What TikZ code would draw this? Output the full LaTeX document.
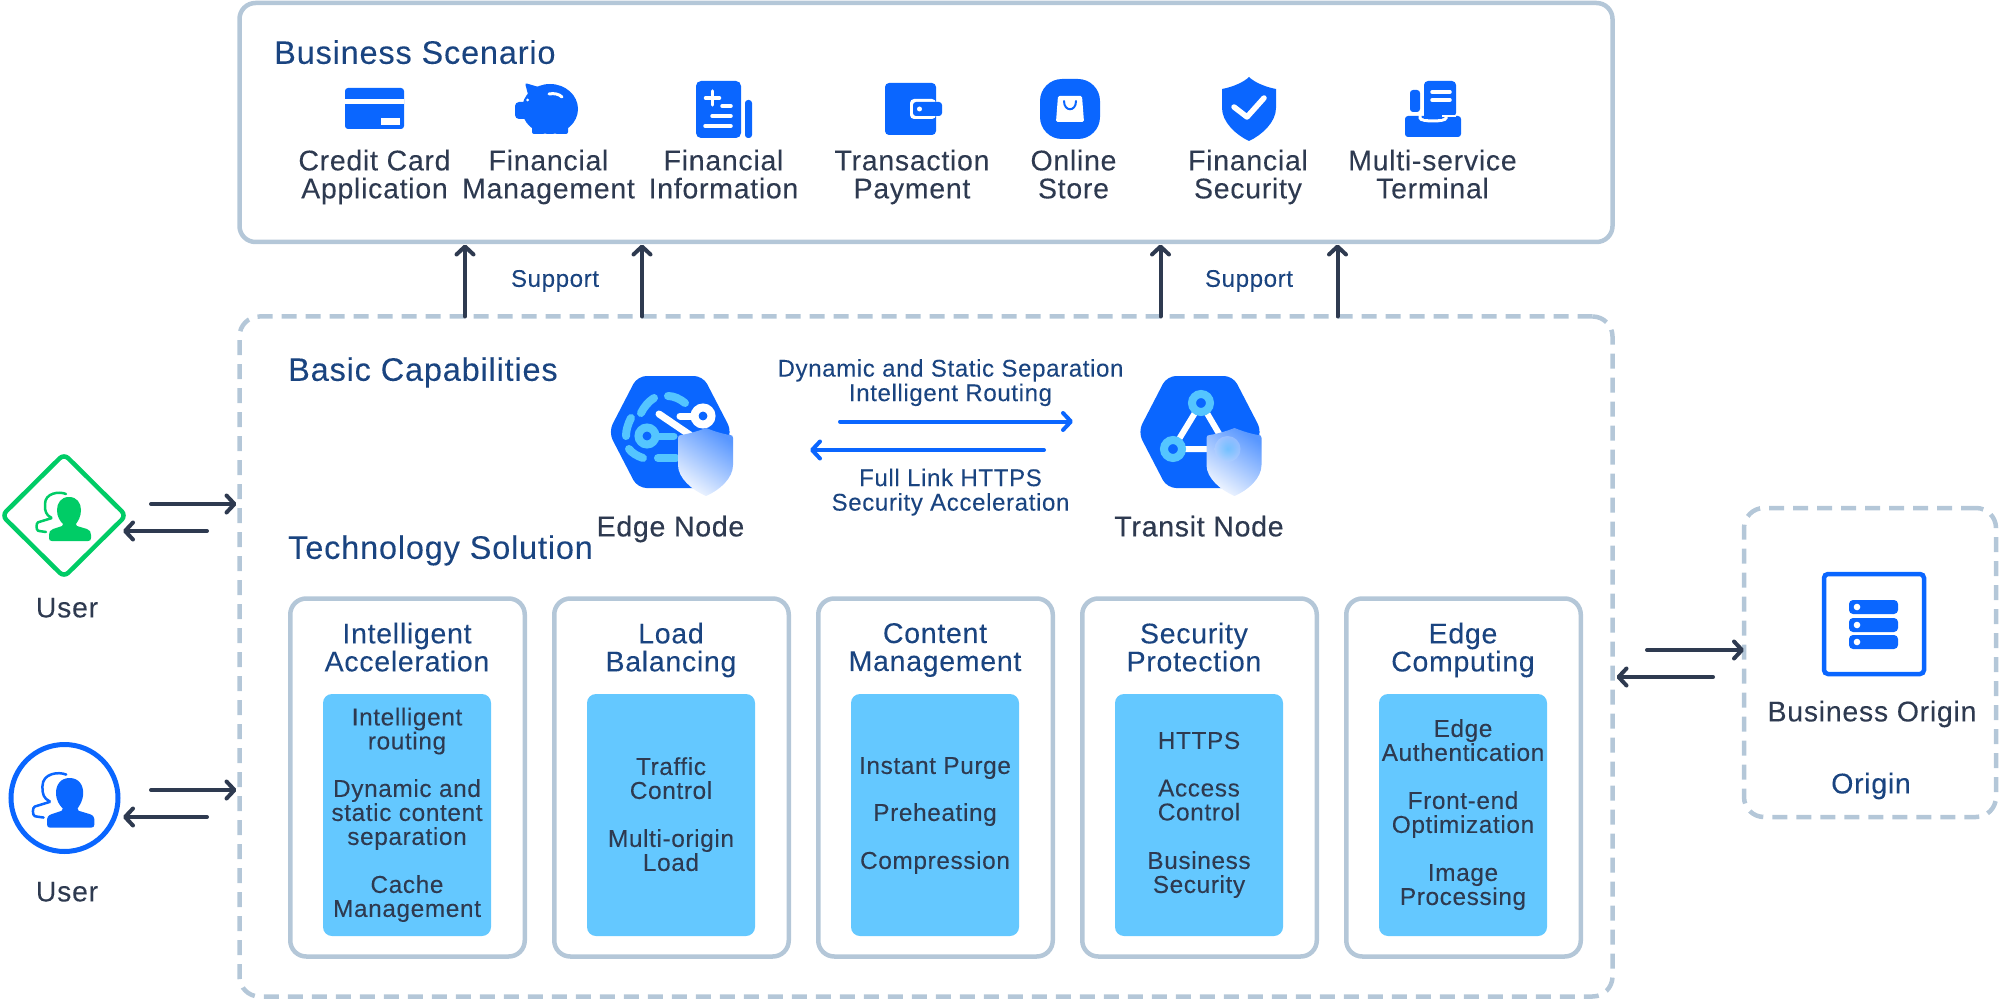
\documentclass[tikz,border=0pt]{standalone}
\usepackage{fontspec}
\setmainfont{Liberation Sans}[LetterSpace=2.5,FakeBold=0.08]
\newfontfamily\medfont{Liberation Sans}[FakeBold=0.4,LetterSpace=2.5]
\usetikzlibrary{arrows.meta,shapes.geometric}
\definecolor{edgeC}{HTML}{B4C7D8}
\definecolor{inkC}{HTML}{2E3A50}
\definecolor{navyC}{HTML}{1A4480}
\definecolor{blueC}{HTML}{0A66FF}
\definecolor{skyC}{HTML}{64C8FF}
\definecolor{cyanC}{HTML}{54C5FF}
\definecolor{greenC}{HTML}{00CC66}
\newcommand\glassshield{%
  \shade[left color=blueC!68!white, right color=blueC!6!white, shading angle=-35]
    (28,0) .. controls (33,2) and (44,6) .. (52,7) .. controls (54,7) and (55,8) .. (55,10) -- (55,37)
    .. controls (55,50) and (42,62) .. (28,68) .. controls (14,62) and (0,50) .. (0,37) -- (0,10)
    .. controls (0,8) and (1,7) .. (3,7) .. controls (11,6) and (23,2) .. (28,0) -- cycle;
}
\newcommand\personfill{%
  (20,0) .. controls (28,0) and (32,6) .. (32,13) .. controls (32,20) and (29,24) .. (27,27) -- (28,29) -- (38,32)
  .. controls (41,33) and (42,35) .. (42,38) -- (42,41) .. controls (42,43) and (41,44) .. (39,44) -- (3,44)
  .. controls (1,44) and (0,43) .. (0,41) -- (0,38) .. controls (0,35) and (1,33) .. (4,32) -- (13,29) -- (14,27)
  .. controls (11,24) and (8,20) .. (8,13) .. controls (8,6) and (12,0) .. (20,0) -- cycle}
\newcommand\personline{%
  (17,-3) .. controls (10,-6) and (-4,-4) .. (-4,8) .. controls (-4,14) and (-3,18) .. (3,21) -- (-10,25)
  .. controls (-13,26) and (-13,33) .. (-10,34) -- (-3,35)}
\tikzset{
  x=1pt,y=-1pt,
  panel/.style={draw=edgeC,line width=4.5pt,rounded corners=16pt,inner sep=0pt,outer sep=0pt},
  dashpanel/.style={panel,rounded corners=20pt,dash pattern=on 15pt off 9pt},
  card/.style={draw=edgeC,line width=4.5pt,rounded corners=16pt,inner sep=0pt,outer sep=0pt,minimum width=234.5pt,minimum height=358pt},
  inner box/.style={fill=skyC,rounded corners=9pt,inner sep=0pt,minimum width=168pt,minimum height=242pt},
  evened/.style={execute at begin node={\leavevmode\vphantom{lg}},execute at end node={\vphantom{lg}}},
  bigtitle/.style={evened,text=navyC,inner sep=0pt,anchor=west,yshift=-2.4pt,font=\fontsize{32.5}{32}\selectfont},
  itemlabel/.style={evened,text=inkC,inner sep=0pt,align=center,yshift=-2pt,font=\fontsize{28.5}{28}\selectfont},
  cardhead/.style={evened,text=navyC,inner sep=0pt,align=center,yshift=-2pt,font=\fontsize{28.5}{28}\selectfont},
  boxtext/.style={evened,text=inkC,inner sep=0pt,align=center,yshift=-1.6pt,font=\fontsize{24.4}{24}\selectfont},
  linktext/.style={evened,text=navyC,inner sep=0pt,align=center,yshift=-1.6pt,font=\fontsize{24.1}{24.5}\selectfont},
  nodelabel/.style={evened,text=inkC,inner sep=0pt,yshift=-3pt,font=\medfont\fontsize{28.5}{28}\selectfont},
  darrow/.style={draw=inkC,line width=4pt,line cap=round,-{Straight Barb[length=8pt,width=17pt,round]}},
  barrow/.style={draw=blueC,line width=4pt,line cap=round,-{Straight Barb[length=8pt,width=17pt,round]}},
  iconfill/.style={fill=blueC},
  whiteline/.style={draw=white,line width=3.5pt,line cap=round},
  cyanline/.style={draw=cyanC,line width=8pt,line cap=round},
}
\begin{document}
\begin{tikzpicture}
\useasboundingbox (0,0) rectangle (2000,1000);
% panels
\node[panel,minimum width=1373pt,minimum height=239pt] (scenario) at (926,122.5) {};
\node[dashpanel,minimum width=1373pt,minimum height=680pt] (basic) at (926,656.5) {};
\node[dashpanel,minimum width=252pt,minimum height=309pt] (origin) at (1870,662.5) {};
% titles
\node[bigtitle] (tScenario) at (274,53) {Business Scenario};
\node[bigtitle] (tBasic) at (288,370) {Basic Capabilities};
\node[bigtitle] (tTech) at (288,548) {Technology Solution};
% scenario labels
\node[itemlabel] (l1) at (374.5,175) {Credit Card\\Application};
\node[itemlabel] (l2) at (548.5,175) {Financial\\Management};
\node[itemlabel] (l3) at (723.5,175) {Financial\\Information};
\node[itemlabel] (l4) at (912,175) {Transaction\\Payment};
\node[itemlabel] (l5) at (1073.5,175) {Online\\Store};
\node[itemlabel] (l6) at (1248,175) {Financial\\Security};
\node[itemlabel] (l7) at (1432.5,175) {Multi-service\\Terminal};
% credit card
\fill[iconfill,rounded corners=3pt] (345,88) rectangle (404,129);
\fill[white] (345,99) rectangle (404,104.5);
\fill[white] (381,118) rectangle (400,125.5);
% pig
\fill[iconfill] (550,109) ellipse [x radius=28,y radius=25];
\fill[iconfill,rounded corners=2pt] (525,83) -- (542,88) -- (530,102) -- cycle;
\fill[iconfill,rounded corners=4pt] (515,102) rectangle (530,119);
\fill[iconfill,rounded corners=2pt] (532,120) rectangle (545,134);
\fill[iconfill,rounded corners=2pt] (555,120) rectangle (568,134);
\fill[white] (527.5,100) circle (1.5);
\draw[whiteline,line width=3pt] (549,94) .. controls (554,93) and (559,94) .. (562,97);
% document
\fill[iconfill,rounded corners=5pt] (696,81) rectangle (741,138);
\fill[iconfill,rounded corners=3pt] (745,100) rectangle (752,138);
\draw[whiteline] (712.5,91) -- (712.5,105) (705.5,98) -- (719.5,98);
\draw[whiteline] (722,106) -- (731,106) (712,116) -- (731,116) (705,126) -- (731,126);
% wallet
\fill[iconfill,rounded corners=4pt] (885,83) rectangle (936,135);
\fill[white,rounded corners=4pt] (910,99) rectangle (936,119);
\fill[iconfill,rounded corners=3pt] (913,102) rectangle (942,116);
\fill[white] (919.5,109) circle (2.5);
% store
\fill[iconfill,rounded corners=22pt] (1040,79) rectangle (1100,139);
\fill[white,rounded corners=1.5pt] (1058,96) -- (1082,96) -- (1084,122) -- (1056,122) -- cycle;
\draw[blueC,line width=2pt,line cap=round] (1064,101) .. controls (1064,112) and (1076,112) .. (1076,101);
% shield
\fill[iconfill] (1249,77) .. controls (1244,82) and (1233,87) .. (1222,89) -- (1222,108)
  .. controls (1222,122) and (1236,135) .. (1249,141) .. controls (1262,135) and (1276,122) .. (1276,108)
  -- (1276,89) .. controls (1265,87) and (1254,82) .. (1249,77) -- cycle;
\draw[draw=white,line width=5.5pt,line cap=round,line join=round] (1234,107) -- (1247,117) -- (1264,98);
% terminal
\fill[iconfill,rounded corners=3pt] (1410,90) rectangle (1420,112);
\fill[iconfill,rounded corners=3pt] (1405,116) rectangle (1461,137);
\draw[whiteline,line width=3pt] (1420,113) -- (1420,118) .. controls (1420,122) and (1446,122) .. (1446,118) -- (1446,113);
\fill[iconfill,rounded corners=4pt] (1424,81) rectangle (1456,117);
\fill[white] (1424,115) rectangle (1456,117);
\fill[iconfill] (1424,112) rectangle (1442,119);
\draw[whiteline] (1432,92) -- (1450,92) (1432,100) -- (1450,100);
% support arrows
\coordinate (a1) at (465,0);
\coordinate (a2) at (642,0);
\coordinate (a3) at (1160.5,0);
\coordinate (a4) at (1337.5,0);
\draw[darrow,shorten >=2.5pt] (basic.north -| a1) -- (scenario.south -| a1);
\draw[darrow,shorten >=2.5pt] (basic.north -| a2) -- (scenario.south -| a2);
\draw[darrow,shorten >=2.5pt] (basic.north -| a3) -- (scenario.south -| a3);
\draw[darrow,shorten >=2.5pt] (basic.north -| a4) -- (scenario.south -| a4);
\node[linktext] (sup1) at (555,279) {Support};
\node[linktext] (sup2) at (1249,279) {Support};
% edge node
\fill[iconfill,rounded corners=9pt] (637.5,376) coordinate (hexA) -- (703,376) -- (732,432) -- (703,488) -- (637.5,488) -- (608.5,432) -- cycle;
\draw[cyanline] (668,396) .. controls (674,396) and (680,399) .. (685,403);
\draw[cyanline] (654,398) .. controls (648,402) and (644,407) .. (641,413);
\draw[cyanline] (631,418) .. controls (628,424) and (626,430) .. (626,436);
\draw[cyanline] (629,449) .. controls (632,453) and (637,456) .. (643,458);
\draw[cyanline] (658,458) -- (676,458);
\draw[cyanC,line width=8pt] (647,436) circle (8.5);
\draw[cyanC,line width=7pt,line cap=round] (656,436) -- (674,436);
\draw[white,line width=7pt,line cap=round] (659,414) -- (690,435);
\draw[white,line width=8pt] (703,416) circle (8.5);
\draw[white,line width=7pt,line cap=round] (695,416) -- (680,416);
\begin{scope}[shift={(678,428)}]\glassshield\end{scope}
\node[nodelabel] (edgeNode) at (670.5,526) {Edge Node};
% transit node
\fill[iconfill,rounded corners=9pt] (1167,376) coordinate (hexB) -- (1233,376) -- (1262,432) -- (1233,488) -- (1167,488) -- (1138,432) -- cycle;
\draw[white,line width=6pt] (1201,403) -- (1173,449) -- (1228,449) -- cycle;
\draw[cyanC,line width=8pt,fill=blueC] (1201,403) circle (9);
\draw[cyanC,line width=8pt,fill=blueC] (1173,449) circle (9);
\begin{scope}[shift={(1206.5,428)}]\glassshield
\shade[inner color=cyanC,outer color=blueC!30!white,opacity=.5] (21,21) circle (13);
\end{scope}
\node[nodelabel] (transitNode) at (1199,526) {Transit Node};
% link arrows and text
\coordinate (r1) at (840,421.5);
\coordinate (r2) at (1073,421.5);
\coordinate (r3) at (1044,450);
\coordinate (r4) at (810,450);
\draw[barrow] (r1) -- (r2);
\draw[barrow] (r3) -- (r4);
\node[linktext] (link1) at (950.5,381) {Dynamic and Static Separation\\Intelligent Routing};
\node[linktext] (link2) at (950.5,490.5) {Full Link HTTPS\\Security Acceleration};
% cards
\node[card] (c1) at (407.5,777.5) {};
\node[card] (c2) at (671.5,777.5) {};
\node[card] (c3) at (935.5,777.5) {};
\node[card] (c4) at (1199.5,777.5) {};
\node[card] (c5) at (1463.5,777.5) {};
\node[inner box] (b1) at (407,815) {};
\node[inner box] (b2) at (671,815) {};
\node[inner box] (b3) at (935,815) {};
\node[inner box] (b4) at (1199,815) {};
\node[inner box] (b5) at (1463,815) {};
\node[cardhead] (h1) at (407,648) {Intelligent\\Acceleration};
\node[cardhead] (h2) at (671,648) {Load\\Balancing};
\node[cardhead] (h3) at (935,648) {Content\\Management};
\node[cardhead] (h4) at (1194,648) {Security\\Protection};
\node[cardhead] (h5) at (1463,648) {Edge\\Computing};
\node[boxtext] (t11) at (407,729.5) {Intelligent\\routing};
\node[boxtext] (t12) at (407,813) {Dynamic and\\static content\\separation};
\node[boxtext] (t13) at (407,897) {Cache\\Management};
\node[boxtext] (t21) at (671,779) {Traffic\\Control};
\node[boxtext] (t22) at (671,851) {Multi-origin\\Load};
\node[boxtext] (t31) at (935,766) {Instant Purge};
\node[boxtext] (t32) at (935,813) {Preheating};
\node[boxtext] (t33) at (935,861) {Compression};
\node[boxtext] (t41) at (1199,741) {HTTPS};
\node[boxtext] (t42) at (1199,801) {Access\\Control};
\node[boxtext] (t43) at (1199,873) {Business\\Security};
\node[boxtext] (t51) at (1463,741) {Edge\\Authentication};
\node[boxtext] (t52) at (1463,813) {Front-end\\Optimization};
\node[boxtext] (t53) at (1463,885.5) {Image\\Processing};
% users
\draw[greenC,line width=4.5pt,rounded corners=6pt] (64,454) coordinate (uA) -- (126,515.5) -- (64,577) -- (2,515.5) -- cycle;
\begin{scope}[shift={(49,497)}]
\fill[greenC] \personfill;
\draw[greenC,line width=2.5pt,line cap=round,rounded corners=1pt] \personline;
\end{scope}
\node[draw=blueC,line width=5pt,circle,minimum size=107pt,inner sep=0pt] (uB) at (64.5,798) {};
\begin{scope}[shift={(47,778)},scale=1.13]
\fill[blueC] \personfill;
\draw[blueC,line width=2.5pt,line cap=round,rounded corners=1pt] \personline;
\end{scope}
\node[itemlabel] (u1) at (67,608) {User};
\node[itemlabel] (u2) at (67,892) {User};
\coordinate (ua1) at (151,504);
\coordinate (ua2) at (207,531);
\coordinate (ua3) at (123,531);
\coordinate (ub1) at (151,790);
\coordinate (ub2) at (207,817);
\coordinate (ub3) at (123,817);
\draw[darrow,shorten >=3pt] (ua1) -- (ua1 -| basic.west);
\draw[darrow] (ua2) -- (ua3);
\draw[darrow,shorten >=3pt] (ub1) -- (ub1 -| basic.west);
\draw[darrow] (ub2) -- (ub3);
% origin
\coordinate (oa1) at (1647,650);
\coordinate (oa2) at (1713,677);
\draw[darrow] (oa1) -- (oa1 -| origin.west);
\draw[darrow,shorten >=4pt] (oa2) -- (oa2 -| basic.east);
\node[draw=blueC,line width=4.5pt,rounded corners=4pt,minimum size=100pt,inner sep=0pt] (srv) at (1874,624) {};
\fill[iconfill,rounded corners=4pt] (1849,600) rectangle (1898,614);
\fill[iconfill,rounded corners=4pt] (1849,618) rectangle (1898,632);
\fill[iconfill,rounded corners=4pt] (1849,635) rectangle (1898,649);
\fill[white] (1857,607) circle (3.3) (1857,625) circle (3.3) (1857,642) circle (3.3);
\node[itemlabel] (bo) at (1872,712) {Business Origin};
\node[cardhead] (ol) at (1871,784) {Origin};
\end{tikzpicture}
\end{document}
